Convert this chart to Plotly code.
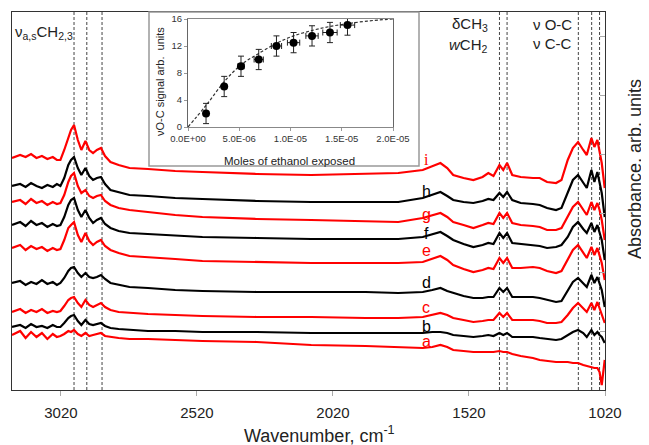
import plotly.graph_objects as go

# the page body keeps its default 8px margin, so the figure is drawn 8px in from the corner
OFF = 8
W, H = 649 - OFF, 445 - OFF
FONT = "Arial, Liberation Sans, sans-serif"

# wavenumber grid (cm-1) shared by all spectra
wavenumber = [3200, 3170, 3150, 3130, 3110, 3090, 3070, 3050, 3035, 3022,
              3008, 2993, 2983, 2972, 2958, 2945, 2930, 2916, 2902, 2888,
              2873, 2858, 2838, 2808, 2768, 2700, 2600, 2500, 2300, 2100,
              1900, 1780, 1690, 1655, 1625, 1600, 1578, 1540, 1504, 1470,
              1449, 1430, 1408, 1394, 1380, 1361, 1330, 1285, 1260, 1233,
              1200, 1180, 1157, 1138, 1119, 1100, 1087, 1070, 1059, 1048,
              1040, 1032, 1021]

# absorbance (arb. units, stacked)
spec_a = [55, 59, 52, 58, 53, 57, 51, 56, 53, 54, 56, 59, 58, 60, 56, 54, 57, 54, 55, 56,
          57, 54, 53, 52, 51, 51, 50, 49, 48, 45, 44, 43, 42, 43, 45, 43, 40, 39, 38, 38,
          38, 38, 39, 38, 38, 36, 34, 32, 30, 29, 28, 28, 28, 27, 27, 25, 24, 23, 22, 22,
          18, 5, 30]
spec_b = [63, 65, 62, 66, 63, 64, 62, 65, 63, 63, 67, 72, 74, 75, 69, 65, 70, 66, 65, 66,
          67, 64, 62, 61, 60, 59, 59, 58, 58, 57, 57, 57, 57, 58, 58, 57, 55, 54, 53, 54,
          55, 54, 57, 55, 57, 53, 53, 53, 52, 51, 50, 51, 55, 58, 60, 57, 53, 60, 55, 58,
          55, 53, 47]
spec_c = [78, 81, 77, 80, 78, 81, 77, 79, 78, 79, 84, 90, 92, 93, 87, 83, 90, 85, 83, 85,
          87, 83, 80, 78, 77, 76, 75, 74, 73, 73, 72, 72, 73, 75, 77, 75, 72, 70, 68, 69,
          70, 70, 77, 73, 77, 70, 70, 70, 69, 67, 67, 68, 75, 82, 87, 82, 78, 87, 80, 88,
          82, 77, 67]
spec_d = [107, 109, 105, 108, 106, 110, 106, 108, 105, 107, 112, 119, 122, 123, 117, 113, 117, 113, 112, 113,
          115, 111, 107, 105, 103, 102, 100, 99, 98, 98, 98, 97, 98, 100, 102, 99, 97, 94, 92, 92,
          93, 93, 102, 98, 102, 93, 93, 93, 92, 90, 88, 89, 100, 108, 112, 107, 103, 115, 107, 113,
          107, 100, 83]
spec_e = [142, 145, 140, 144, 141, 143, 139, 142, 140, 141, 150, 162, 165, 168, 155, 148, 157, 149, 145, 148,
          150, 144, 140, 137, 134, 133, 131, 129, 128, 127, 127, 127, 128, 131, 134, 130, 125, 121, 118, 120,
          122, 121, 132, 127, 132, 122, 122, 123, 122, 119, 117, 119, 130, 140, 145, 138, 132, 143, 135, 142,
          135, 127, 110]
spec_f = [165, 168, 164, 169, 165, 167, 163, 166, 164, 165, 173, 185, 190, 192, 180, 173, 180, 172, 167, 170,
          172, 166, 162, 159, 157, 156, 154, 153, 152, 151, 151, 151, 153, 156, 158, 154, 150, 146, 143, 145,
          147, 146, 157, 152, 157, 147, 146, 145, 144, 142, 143, 145, 153, 163, 168, 161, 157, 167, 158, 165,
          158, 150, 130]
spec_g = [188, 190, 186, 191, 187, 189, 185, 188, 186, 187, 195, 208, 214, 217, 204, 197, 200, 194, 192, 194,
          195, 189, 185, 182, 180, 178, 175, 173, 171, 170, 169, 168, 172, 175, 177, 173, 168, 165, 162, 165,
          167, 166, 177, 172, 177, 167, 165, 164, 163, 160, 160, 162, 173, 183, 188, 180, 175, 188, 180, 187,
          180, 170, 150]
spec_h = [204, 206, 203, 207, 204, 202, 205, 203, 206, 204, 212, 225, 230, 233, 222, 215, 222, 214, 210, 212,
          213, 206, 200, 198, 195, 194, 192, 191, 189, 188, 188, 188, 192, 195, 198, 194, 190, 188, 187, 189,
          191, 190, 197, 193, 198, 190, 187, 186, 185, 182, 180, 182, 198, 210, 215, 207, 202, 220, 208, 218,
          208, 197, 173]
spec_i = [232, 235, 233, 236, 232, 234, 231, 233, 230, 230, 240, 252, 260, 265, 250, 240, 249, 240, 237, 240,
          242, 234, 228, 225, 222, 221, 219, 218, 216, 215, 216, 217, 220, 224, 227, 222, 215, 212, 210, 213,
          217, 214, 225, 220, 227, 215, 213, 212, 212, 208, 207, 210, 230, 242, 248, 240, 235, 252, 243, 250,
          240, 227, 202]

spectrum_names = ["a", "b", "c", "d", "e", "f", "g", "h", "i"]
spectra = [spec_a, spec_b, spec_c, spec_d, spec_e, spec_f, spec_g, spec_h, spec_i]

# band positions marked with dashed lines
band_lines = [2972, 2925, 2869, 1408, 1380, 1118, 1069, 1040]

# inset: nu O-C signal vs moles of ethanol
moles = [1.76e-6, 3.53e-6, 5.17e-6, 6.9e-6, 8.63e-6, 10.3e-6, 12.1e-6, 13.85e-6, 15.56e-6]
moles_err = [0, 0, 0.3e-6, 0.45e-6, 0.5e-6, 0.6e-6, 0.6e-6, 0.7e-6, 0.7e-6]
signal = [2.0, 6.0, 9.0, 10.0, 12.0, 12.5, 13.5, 14.0, 15.1]
signal_err = [1.5, 1.5, 1.5, 1.5, 1.5, 1.5, 1.5, 1.5, 1.5]
fit_moles = [0, 1.76e-6, 3.53e-6, 5.17e-6, 6.9e-6, 8.63e-6, 10.3e-6, 12.1e-6, 13.85e-6, 15.56e-6, 17.5e-6, 20e-6]
fit_signal = [0, 3.2, 6.7, 9.2, 10.9, 12.4, 13.5, 14.3, 14.9, 15.3, 15.7, 16.0]

x_ticks = [3020, 2520, 2020, 1520, 1020]
inset_ticks = [0, 5e-6, 1e-5, 1.5e-5, 2e-5]
inset_ticktext = ["0.0E+00", "5.0E-06", "1.0E-05", "1.5E-05", "2.0E-05"]


# page pixel -> paper fraction
def px(x):
    return (x - OFF) / W


def py(y):
    return 1 - (y - OFF) / H


fig = go.Figure()

for k, (name, ys) in enumerate(zip(spectrum_names, spectra)):
    fig.add_trace(go.Scatter(x=wavenumber, y=ys, mode="lines", name=name,
                             line=dict(color="#ff0000" if k % 2 == 0 else "#000000", width=2.2),
                             xaxis="x", yaxis="y", showlegend=False))

# inset
fig.add_trace(go.Scatter(x=fit_moles, y=fit_signal, mode="lines", line_shape="spline",
                         line=dict(color="#333", width=1.2, dash="3px,2px"),
                         xaxis="x2", yaxis="y2", showlegend=False))
fig.add_trace(go.Scatter(x=moles, y=signal, mode="markers",
                         marker=dict(color="black", size=8),
                         error_y=dict(type="data", array=signal_err, color="#222", thickness=1, width=3),
                         error_x=dict(type="data", array=moles_err, color="#222", thickness=1, width=3),
                         xaxis="x2", yaxis="y2", showlegend=False))

shapes = []
for wn in band_lines:
    shapes.append(dict(type="line", xref="x", yref="y", x0=wn, x1=wn, y0=0, y1=378,
                       line=dict(color="#444", width=1, dash="3px,2px"), layer="below"))
# inset frame
shapes.append(dict(type="rect", xref="paper", yref="paper",
                   x0=px(149), x1=px(419), y0=py(166), y1=py(12),
                   line=dict(color="#999", width=1.5), fillcolor="rgba(0,0,0,0)", layer="above"))

annotations = []
# spectrum letters (label height in absorbance units)
label_y = {"a": 49, "b": 64, "c": 83, "d": 108, "e": 140, "f": 157, "g": 176, "h": 199, "i": 231}
for k, name in enumerate(spectrum_names):
    annotations.append(dict(x=1678, y=label_y[name], xref="x", yref="y", text=name, showarrow=False,
                            font=dict(family="Liberation Serif, Times New Roman, serif" if name == "i" else FONT,
                                      size=16, color="#ff0000" if k % 2 == 0 else "#000000")))

txt = dict(showarrow=False, xref="paper", yref="paper", font=dict(family=FONT, size=15, color="#222"))
annotations += [
    dict(x=px(13), y=py(32), xanchor="left", yanchor="middle", text="ν<sub>a,s</sub>CH<sub>2,3</sub>", **txt),
    dict(x=px(490), y=py(25), xanchor="right", yanchor="middle", text="δCH<sub>3</sub>", **txt),
    dict(x=px(490), y=py(45), xanchor="right", yanchor="middle", text="<i>w</i>CH<sub>2</sub>", **txt),
    dict(x=px(531), y=py(25), xanchor="left", yanchor="middle", text="ν O-C", **txt),
    dict(x=px(531), y=py(44), xanchor="left", yanchor="middle", text="ν C-C", **txt),
    dict(x=px(319), y=py(434), xanchor="center", yanchor="middle", text="Wavenumber, cm<sup>-1</sup>",
         showarrow=False, xref="paper", yref="paper", font=dict(family=FONT, size=18, color="#222")),
    dict(x=px(635), y=py(169), xanchor="center", yanchor="middle", text="Absorbance, arb. units", textangle=-90,
         showarrow=False, xref="paper", yref="paper", font=dict(family=FONT, size=18, color="#222")),
    dict(x=px(289), y=py(161), xanchor="center", yanchor="middle", text="Moles of ethanol exposed",
         showarrow=False, xref="paper", yref="paper", font=dict(family=FONT, size=11.5, color="#222")),
    dict(x=px(160), y=py(82), xanchor="center", yanchor="middle", text="νO-C signal arb.  units", textangle=-90,
         showarrow=False, xref="paper", yref="paper", font=dict(family=FONT, size=11, color="#222")),
]

fig.update_layout(
    template="none",
    width=W, height=H,
    margin=dict(l=0, r=0, t=0, b=0, pad=0, autoexpand=False),
    paper_bgcolor="white", plot_bgcolor="white",
    font=dict(family=FONT, color="#222"),
    shapes=shapes, annotations=annotations,
    xaxis=dict(domain=[px(12), px(605)], range=[3200, 1020], tickvals=x_ticks,
               ticks="outside", ticklen=5, tickcolor="#aaa", ticklabelstandoff=4,
               tickfont=dict(size=15, color="#222"), automargin=False,
               showline=True, linecolor="#333", linewidth=1, mirror=True,
               showgrid=False, zeroline=False, anchor="y"),
    yaxis=dict(domain=[py(390), py(12)], range=[0, 378], side="right",
               ticks="inside", tick0=0, dtick=59, ticklen=5, tickcolor="#aaa", automargin=False,
               showticklabels=False, showline=True, linecolor="#333", linewidth=1, mirror=True,
               showgrid=False, zeroline=False, anchor="x"),
    xaxis2=dict(domain=[px(188), px(393)], range=[0, 2e-5], tickvals=inset_ticks, ticktext=inset_ticktext,
                ticks="outside", ticklen=3, tickcolor="#999", tickfont=dict(size=9.5, color="#333"),
                showline=True, linecolor="#888", linewidth=1, mirror=True, automargin=False,
                showgrid=False, zeroline=False, anchor="y2"),
    yaxis2=dict(domain=[py(127), py(19)], range=[0, 16], tick0=0, dtick=4,
                ticks="outside", ticklen=3, tickcolor="#999", tickfont=dict(size=9.5, color="#333"),
                showline=True, linecolor="#666", linewidth=1, mirror=True, automargin=False,
                showgrid=False, zeroline=False, anchor="x2"),
)

fig.write_html("out.html")
